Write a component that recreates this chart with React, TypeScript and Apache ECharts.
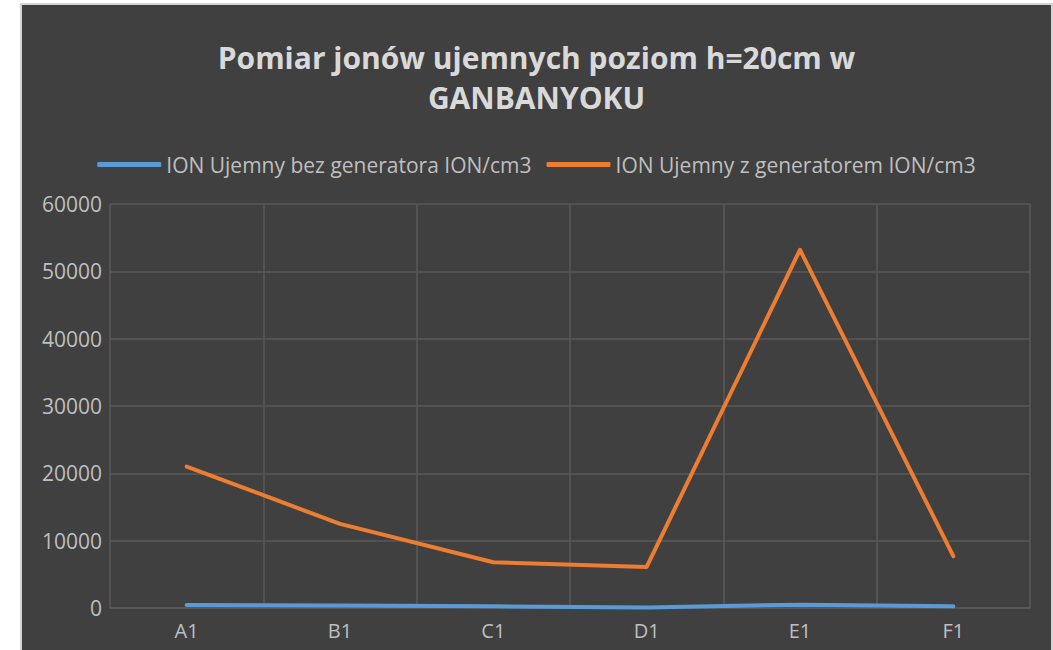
import React, { useEffect, useRef } from "react";
import * as echarts from "echarts";

const titleLines = ["Pomiar jonów ujemnych poziom h=20cm w", "GANBANYOKU"];
const categories = ["A1", "B1", "C1", "D1", "E1", "F1"];
const seriesNames = [
  "ION Ujemny bez generatora ION/cm3",
  "ION Ujemny z generatorem ION/cm3",
];
const withoutGenerator = [450, 380, 250, 80, 500, 250];
const withGenerator = [21000, 12500, 6800, 6100, 53200, 7700];
const yMin = 0;
const yMax = 60000;
const yInterval = 10000;

const FONT = "'Open Sans', sans-serif";

export default function App() {
  const ref = useRef<HTMLDivElement>(null);
  useEffect(() => {
    if (!ref.current) return;
    const chart = echarts.init(ref.current, undefined, { renderer: "svg" });
    const titleStyle = {
      color: "#d9d9d9",
      fontFamily: FONT,
      fontWeight: "bold",
      fontSize: 30,
      lineHeight: 30,
    };
    chart.setOption({
      animation: false,
      backgroundColor: "#404040",
      title: [
        { text: titleLines[0], left: "center", top: 32, textStyle: titleStyle },
        { text: titleLines[1], left: "center", top: 72, textStyle: titleStyle },
      ],
      legend: {
        top: 144,
        left: "center",
        icon: "roundRect",
        itemWidth: 64,
        itemHeight: 5,
        itemGap: 15,
        textStyle: { color: "#bfbfbf", fontFamily: FONT, fontSize: 21 },
        data: seriesNames,
      },
      grid: { left: 88, top: 199, width: 920, height: 404, containLabel: false },
      xAxis: {
        type: "category",
        data: categories,
        boundaryGap: true,
        axisLine: { show: true, lineStyle: { color: "#595959", width: 1.5 } },
        axisTick: { show: false },
        axisLabel: { color: "#bfbfbf", fontFamily: FONT, fontSize: 20, margin: 12 },
        splitLine: { show: true, lineStyle: { color: "#595959", width: 1.5 } },
      },
      yAxis: {
        type: "value",
        min: yMin,
        max: yMax,
        interval: yInterval,
        axisLine: { show: false },
        axisTick: { show: false },
        axisLabel: {
          color: "#bfbfbf",
          fontFamily: FONT,
          fontSize: 21,
          margin: 8,
          formatter: (v: number) => String(v),
        },
        splitLine: { show: true, lineStyle: { color: "#595959", width: 1.5 } },
      },
      series: [
        {
          name: seriesNames[0],
          type: "line",
          data: withoutGenerator,
          showSymbol: false,
          symbol: "none",
          color: "#5b9bd5",
          lineStyle: { color: "#5b9bd5", width: 4, cap: "round", join: "round" },
        },
        {
          name: seriesNames[1],
          type: "line",
          data: withGenerator,
          showSymbol: false,
          symbol: "none",
          color: "#ed7d31",
          lineStyle: { color: "#ed7d31", width: 4, cap: "round", join: "round" },
        },
      ],
    });
    return () => chart.dispose();
  }, []);

  return (
    <div
      style={{
        position: "fixed",
        left: 0,
        top: 0,
        width: 1053,
        height: 650,
        background: "#ffffff",
        overflow: "hidden",
      }}
    >
      <div
        style={{
          position: "absolute",
          left: 20,
          top: 3,
          border: "2px solid #d4d4d4",
          background: "#404040",
          width: 1029,
          height: 680,
        }}
      >
        <div ref={ref} style={{ width: 1029, height: 680 }} />
      </div>
    </div>
  );
}
